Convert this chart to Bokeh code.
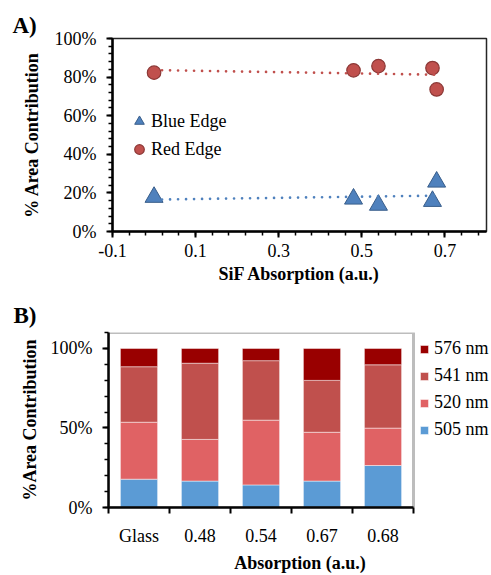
import numpy as np
from bokeh.plotting import figure
from bokeh.models import (ColumnDataSource, Range1d, FixedTicker, NumeralTickFormatter,
                          PrintfTickFormatter, Legend, LegendItem, Title, BoxAnnotation)
from bokeh.embed import file_html
from bokeh.resources import INLINE

FONT = "Liberation Serif"

# ---------------- Panel A data ----------------
sif_absorption = [0.0, 0.48, 0.54, 0.67, 0.68]
blue_edge = [0.178, 0.169, 0.137, 0.157, 0.257]
red_edge = [0.823, 0.835, 0.857, 0.847, 0.736]

# ---------------- Panel B data ----------------
samples = ["Glass", "0.48", "0.54", "0.67", "0.68"]
nm505 = [0.178, 0.166, 0.142, 0.166, 0.264]
nm520 = [0.358, 0.262, 0.407, 0.307, 0.235]
nm541 = [0.349, 0.479, 0.374, 0.326, 0.398]
nm576 = [0.115, 0.093, 0.077, 0.201, 0.103]
series_names = ["505 nm", "520 nm", "541 nm", "576 nm"]
series_colors = ["#5B9BD5", "#E06264", "#C0504D", "#990000"]

A_xticks = [-0.1, 0.1, 0.3, 0.5, 0.7]
A_xminor = [-0.1, -0.06, -0.02, 0.02, 0.06, 0.1, 0.14, 0.18, 0.22, 0.26, 0.3, 0.34, 0.38,
            0.42, 0.46, 0.5, 0.54, 0.58, 0.62, 0.66, 0.7, 0.74, 0.78]
A_yticks = [0, 0.2, 0.4, 0.6, 0.8, 1.0]
A_yminor = [0.04 * i for i in range(26)]
B_yticks = [0, 0.5, 1.0]
B_yminor = [0.1 * i for i in range(12)]


def style_axes(p):
    p.xgrid.visible = False
    p.ygrid.visible = False
    p.outline_line_color = "#262626"
    p.outline_line_width = 1.5
    for ax in (p.xaxis[0], p.yaxis[0]):
        ax.axis_line_color = "black"
        ax.axis_line_width = 2.5
        ax.major_tick_line_color = "black"
        ax.major_tick_line_width = 2
        ax.minor_tick_line_color = "black"
        ax.minor_tick_line_width = 1.5
        ax.major_tick_in = 0
        ax.minor_tick_in = 0
        ax.major_tick_out = 6
        ax.minor_tick_out = 4
        ax.major_label_text_font = FONT
        ax.major_label_text_font_size = "18px"
        ax.major_label_text_color = "black"
        ax.axis_label_text_font = FONT
        ax.axis_label_text_font_size = "18px"
        ax.axis_label_text_font_style = "bold"
        ax.axis_label_text_color = "black"


def panel_title(text, offset, standoff):
    return Title(text=text, align="left", offset=offset, standoff=standoff,
                 text_font=FONT, text_font_size="23px", text_font_style="bold",
                 text_color="black")


# ---------------- Panel A ----------------
p1 = figure(width=491, height=292, x_range=Range1d(-0.1, 0.8), y_range=Range1d(0, 1.0),
            output_backend="svg", toolbar_location=None,
            min_border_left=112, min_border_right=5, min_border_top=38, min_border_bottom=61)
style_axes(p1)
p1.xaxis.ticker = FixedTicker(ticks=A_xticks, minor_ticks=A_xminor)
p1.xaxis.formatter = PrintfTickFormatter(format="%.1f")
p1.yaxis.ticker = FixedTicker(ticks=A_yticks, minor_ticks=A_yminor)
p1.yaxis.formatter = NumeralTickFormatter(format="0%")
p1.xaxis.axis_label = "SiF Absorption (a.u.)"
p1.yaxis.axis_label = "% Area Contribution"
p1.xaxis.major_label_standoff = 6
p1.xaxis.axis_label_standoff = 4
p1.yaxis.major_label_standoff = 10
p1.yaxis.axis_label_standoff = 10

src_a = ColumnDataSource(dict(x=sif_absorption, blue=blue_edge, red=red_edge))
rb = p1.scatter("x", "blue", source=src_a, marker="triangle", size=18,
                fill_color="#4F81BD", line_color="#385D8A", line_width=1)
rr = p1.scatter("x", "red", source=src_a, marker="circle", size=13.5,
                fill_color="#C0504D", line_color="#8C3836", line_width=1.2)

xs = np.array(sif_absorption)
xline = [xs.min(), xs.max()]
for ys, col in ((blue_edge, "#4F81BD"), (red_edge, "#C0504D")):
    k, b = np.polyfit(xs, np.array(ys), 1)
    p1.line(xline, [k * v + b for v in xline], line_color=col, line_width=2.7,
            line_dash="0 8", line_cap="round")

leg1 = Legend(items=[LegendItem(label="Blue Edge", renderers=[rb]),
                     LegendItem(label="Red Edge", renderers=[rr])],
              location=(15, 69), glyph_width=24, glyph_height=26, label_standoff=0,
              label_text_font=FONT, label_text_font_size="18px", label_text_color="black",
              padding=0, margin=0, spacing=2, background_fill_alpha=0, border_line_alpha=0)
p1.add_layout(leg1)
p1.add_layout(panel_title("A)", -100, 2), "above")

# ---------------- Panel B ----------------
# plot area of B spans 305 px for the 5 categories; the figure's frame is extended to
# the right so that the legend (drawn inside the frame) can sit beside the bars.
B_left, B_right_pad, B_cat_px = 108, 0, 61
frame_w = 491 - B_left - B_right_pad
x_end = -0.5 + frame_w / B_cat_px
p2 = figure(width=491, height=283, x_range=Range1d(-0.5, x_end), y_range=Range1d(0, 1.1),
            output_backend="svg", toolbar_location=None,
            min_border_left=B_left, min_border_right=B_right_pad, min_border_top=40,
            min_border_bottom=58)
style_axes(p2)
p2.outline_line_color = None
src_b = ColumnDataSource(dict(x=list(range(len(samples))), nm505=nm505, nm520=nm520,
                              nm541=nm541, nm576=nm576))
bars = p2.vbar_stack(["nm505", "nm520", "nm541", "nm576"], x="x", width=0.61, source=src_b,
                     fill_color=series_colors, line_color="white", line_width=0.8,
                     line_alpha=0.6)
n = len(samples)
p2.add_layout(BoxAnnotation(left=-0.5, right=n - 0.5, bottom=0, top=1.1, fill_alpha=0,
                            line_color="#262626", line_width=3))
p2.xaxis.bounds = (-0.5, n - 0.5)
p2.xaxis.ticker = FixedTicker(ticks=list(range(n)),
                              minor_ticks=[i - 0.5 for i in range(n + 1)])
p2.xaxis.major_label_overrides = {i: s for i, s in enumerate(samples)}
p2.xaxis.major_tick_out = 0
p2.xaxis.minor_tick_out = 6
p2.xaxis.minor_tick_line_width = 2
p2.xaxis.major_label_standoff = 12
p2.xaxis.axis_label_standoff = 4
p2.yaxis.ticker = FixedTicker(ticks=B_yticks, minor_ticks=B_yminor)
p2.yaxis.formatter = NumeralTickFormatter(format="0%")
p2.yaxis.major_label_standoff = 10
p2.yaxis.axis_label_standoff = 8
p2.xaxis.axis_label = "Absorption (a.u.)"
p2.yaxis.axis_label = "%Area Contribution"

leg2 = Legend(items=[LegendItem(label=s, renderers=[r]) for s, r in
                     reversed(list(zip(series_names, bars)))],
              location=(n * B_cat_px + 6, 67), glyph_width=10, glyph_height=10,
              label_height=20, label_standoff=5, spacing=6, padding=0, margin=0,
              label_text_font=FONT, label_text_font_size="18px", label_text_color="black",
              background_fill_alpha=0, border_line_alpha=0)
p2.add_layout(leg2)
p2.add_layout(panel_title("B)", -95, 10), "above")

open("out.html", "w").write(file_html([p1, p2], INLINE))
